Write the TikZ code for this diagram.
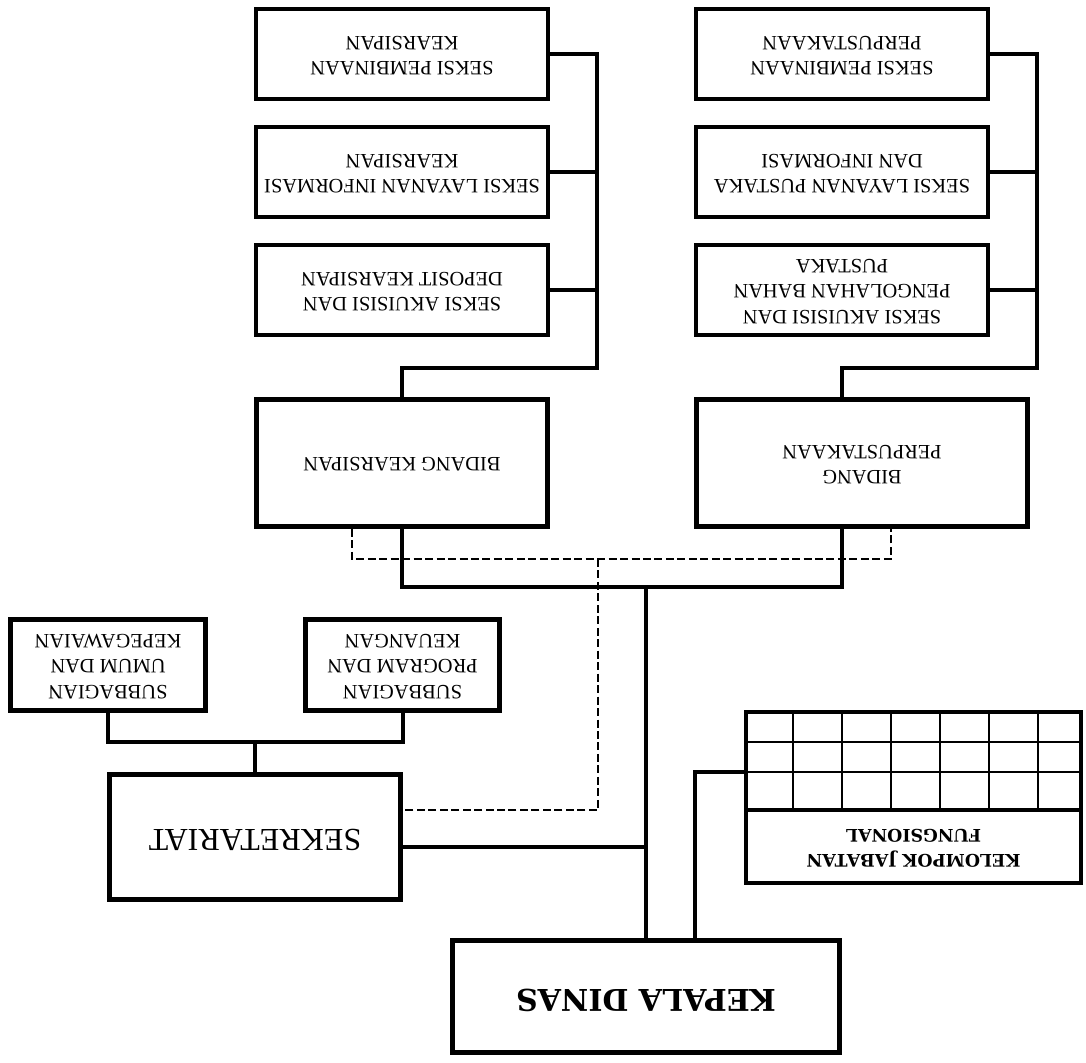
\documentclass[tikz,border=0pt]{standalone}
\usepackage{fontspec}
\usepackage{graphicx}
\setmainfont{Liberation Serif}
\newfontfamily\slabfont{DejaVu Serif}
\usetikzlibrary{calc}

% text of a box, set upside down
\newcommand{\flip}[1]{\rotatebox{180}{\begin{tabular}{@{}c@{}}#1\end{tabular}}}

\tikzset{
  box/.style={draw, line width=3.6pt, inner sep=0pt, align=center,
    font=\fontsize{15.3}{19}\selectfont},
  size/.style 2 args={minimum width=#1*0.75pt, minimum height=#2*0.75pt},
  link/.style={line width=3pt},
  dashline/.style={line width=1.9pt, dash pattern=on 6pt off 2.6pt},
  cell/.style={line width=2.2pt},
}

\begin{document}
\begin{tikzpicture}[x=0.75pt,y=-0.75pt]
  \useasboundingbox (0,0) rectangle (1086,1063);

  % seksi, bidang kearsipan
  \node[box,size={292}{90}] (kbina) at (402,54)  {\flip{SEKSI PEMBINAAN\\KEARSIPAN}};
  \node[box,size={292}{90}] (klay)  at (402,172) {\flip{SEKSI LAYANAN INFORMASI\\KEARSIPAN}};
  \node[box,size={292}{90}] (kdep)  at (402,290) {\flip{SEKSI AKUISISI DAN\\DEPOSIT KEARSIPAN}};
  % seksi, bidang perpustakaan
  \node[box,size={292}{90}] (pbina) at (842,54)  {\flip{SEKSI PEMBINAAN\\PERPUSTAKAAN}};
  \node[box,size={292}{90}] (play)  at (842,172) {\flip{SEKSI LAYANAN PUSTAKA\\DAN INFORMASI}};
  \node[box,size={292}{90}] (pdep)  at (842,290) {\flip{SEKSI AKUISISI DAN\\PENGOLAHAN BAHAN\\PUSTAKA}};

  \node[box,size={291}{127}] (bkear) at (402,463) {\flip{BIDANG KEARSIPAN}};
  \node[box,size={331}{127}] (bpus)  at (862,463) {\flip{BIDANG\\PERPUSTAKAAN}};

  \node[box,size={195}{91}] (sumum) at (108,665)   {\flip{SUBBAGIAN\\UMUM DAN\\KEPEGAWAIAN}};
  \node[box,size={194}{91}] (sprog) at (402.5,665) {\flip{SUBBAGIAN\\PROGRAM DAN\\KEUANGAN}};
  \node[box,size={291}{125},font=\fontsize{24}{28}\selectfont] (sekr) at (255,837) {\flip{SEKRETARIAT}};

  \node[box,size={387}{112},font=\slabfont\bfseries\fontsize{22.5}{27}\selectfont] (kadis) at (646,996.5) {\flip{KEPALA DINAS}};

  % kelompok jabatan fungsional
  \node[box,size={335}{98}] (jfgrid) at (913.5,761) {};
  \foreach \gx in {793,842,891,940,989,1038}
    \draw[cell] (\gx,712) -- (\gx,810);
  \foreach \gy in {742,772}
    \draw[cell] (744,\gy) -- (1083,\gy);
  \node[box,size={335}{73},font=\slabfont\bfseries\fontsize{13}{18.75}\selectfont] (jf) at (913.5,846.5) {\flip{KELOMPOK JABATAN\\FUNGSIONAL}};

  \coordinate (kcol) at (597,368);
  \coordinate (pcol) at (1037,368);
  \coordinate (hub)  at (646,587);
  \coordinate (dhub) at (598,559);
  \coordinate (sbus) at (255,742);
  \coordinate (sk)   at (646,847);
  \coordinate (jfin) at (744,772);

  % garis komando
  \draw[link] (kbina.east) -| (kcol) -| (bkear.north);
  \foreach \s in {klay,kdep}
    \draw[link] (\s.east) -- (\s.east -| kcol);
  \draw[link] (pbina.east) -| (pcol) -| (pdep.south |- bpus.north);
  \foreach \s in {play,pdep}
    \draw[link] (\s.east) -- (\s.east -| pcol);
  \draw[link] (bkear.south) |- (hub) -| (bpus.south -| pdep);
  \draw[link] (hub) -- (kadis.north);
  \draw[link] (sk) -- (sk -| sekr.east);
  \draw[link] (sumum.south) |- (sbus) -| (sprog.south);
  \draw[link] (sbus) -- (sekr.north);
  \draw[link] ($(kadis.north)+(49,0)$) |- (jfin);

  % garis koordinasi
  \draw[dashline] ($(bkear.south)+(-50,0)$) |- (dhub) -| ($(bpus.south -| pdep)+(49,0)$);
  \draw[dashline] (dhub) |- ($(sekr.east)+(0,-27)$);
\end{tikzpicture}
\end{document}
